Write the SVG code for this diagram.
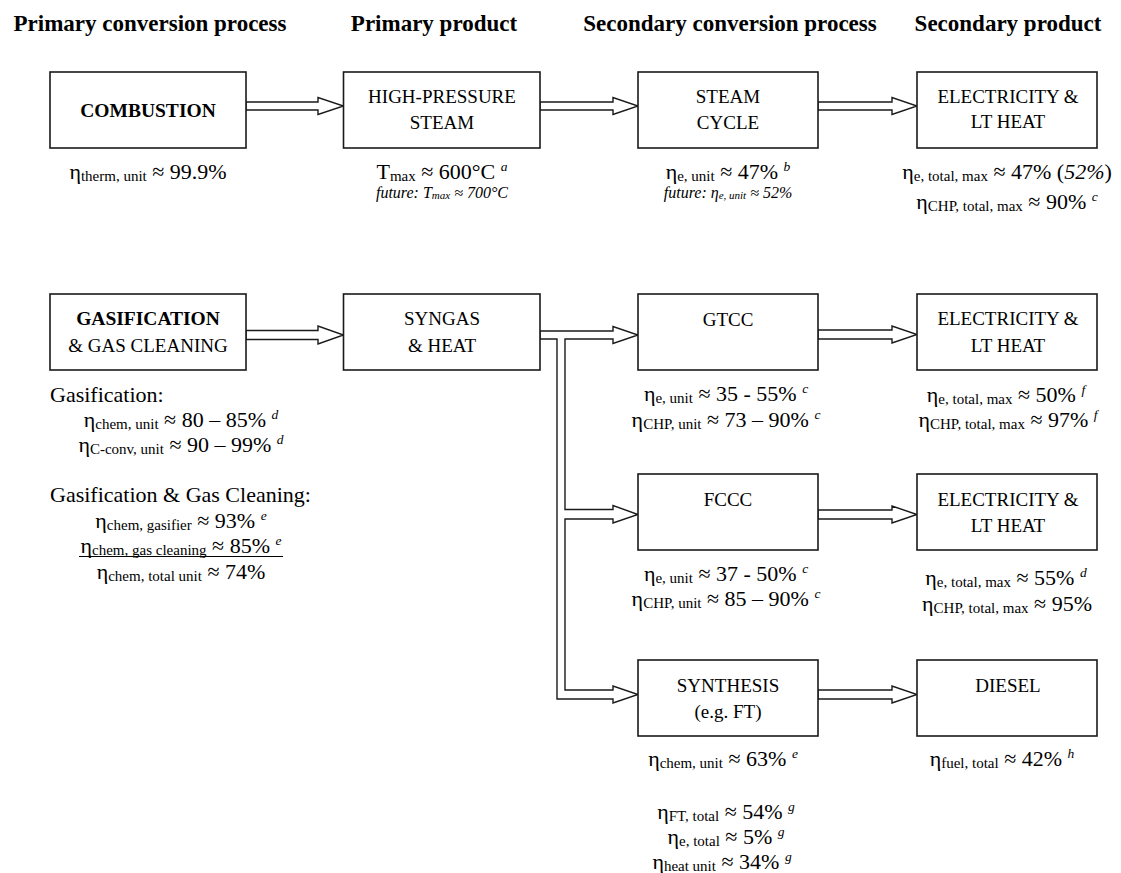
<svg xmlns="http://www.w3.org/2000/svg" width="1121" height="873" viewBox="0 0 1121 873">
<style>
text{font-family:"Liberation Serif","Times New Roman",serif;fill:#000}
.hdr{font-weight:bold;font-size:23px;text-anchor:middle}
.bl{font-size:19px;text-anchor:middle}
.bb{font-size:19.5px;font-weight:bold}
.ann{font-size:22px;text-anchor:middle}
.lft{font-size:22px}
.sub{font-size:15px}
.sup{font-size:13.5px;font-style:italic}
.it{font-style:italic}
.fut{font-size:16px;font-style:italic;text-anchor:middle}
.fsub{font-size:11px}
.box{fill:#fff;stroke:#1a1a1a;stroke-width:1.6}
.arr{fill:#fff;stroke:#1a1a1a;stroke-width:1.4;stroke-linejoin:miter}
</style>
<rect width="1121" height="873" fill="#fff"/>
<g id="headers">
<text class="hdr" x="150" y="31">Primary conversion process</text>
<text class="hdr" x="434" y="31">Primary product</text>
<text class="hdr" x="730" y="31">Secondary conversion process</text>
<text class="hdr" x="1008" y="31">Secondary product</text>
</g>
<g id="connectors">
<polygon class="arr" points="246,102 318,102 318,97.5 343.5,106 318,114.5 318,110 246,110"/>
<polygon class="arr" points="540,102 613,102 613,97.5 638,106 613,114.5 613,110 540,110"/>
<polygon class="arr" points="818,102 892,102 892,97.5 917,106 892,114.5 892,110 818,110"/>
<polygon class="arr" points="246,330.5 318,330.5 318,326 343.5,335 318,344 318,339.5 246,339.5"/>
<polygon class="arr" points="540,331 613,331 613,326.5 638,335 613,343.5 613,339 565,339 565,509.5 613,509.5 613,505.5 638,514.5 613,523 613,519 565,519 565,690 613,690 613,686 638,694.5 613,703 613,699 557,699 557,339 540,339"/>
<polygon class="arr" points="818,330 892,330 892,326 917,334.5 892,343 892,339 818,339"/>
<polygon class="arr" points="818,510 892,510 892,506 917,514.5 892,523 892,519 818,519"/>
<polygon class="arr" points="818,690 892,690 892,686 917,694.5 892,703 892,699 818,699"/>
</g>
<g id="combustion">
<rect class="box" x="50" y="72" width="196" height="76"/>
<text class="bl bb" x="148" y="117">COMBUSTION</text>
<text class="ann" x="148" y="179">η<tspan class="sub" dy="2">therm, unit</tspan><tspan dy="-2"> ≈ 99.9%</tspan></text>
</g>
<g id="hp-steam">
<rect class="box" x="343.5" y="72" width="196.5" height="76"/>
<text class="bl" x="442" y="103">HIGH-PRESSURE</text>
<text class="bl" x="442" y="128.5">STEAM</text>
<text class="ann" x="442" y="179">T<tspan class="sub" dy="2">max</tspan><tspan dy="-2"> ≈ 600°C </tspan><tspan class="sup" dy="-8">a</tspan></text>
<text class="fut" x="442" y="197.5">future: T<tspan class="fsub" dy="1">max</tspan><tspan dy="-1"> ≈ 700°C</tspan></text>
</g>
<g id="steam-cycle">
<rect class="box" x="638" y="72" width="180" height="76"/>
<text class="bl" x="728" y="103">STEAM</text>
<text class="bl" x="728" y="128.5">CYCLE</text>
<text class="ann" x="728" y="179">η<tspan class="sub" dy="2">e, unit</tspan><tspan dy="-2"> ≈ 47% </tspan><tspan class="sup" dy="-8">b</tspan></text>
<text class="fut" x="728" y="198">future: η<tspan class="fsub" dy="1">e, unit</tspan><tspan dy="-1"> ≈ 52%</tspan></text>
</g>
<g id="elec-1">
<rect class="box" x="917" y="72" width="180" height="76"/>
<text class="bl" x="1008" y="102.5">ELECTRICITY &amp;</text>
<text class="bl" x="1008" y="128">LT HEAT</text>
<text class="ann" x="1007" y="179">η<tspan class="sub" dy="2">e, total, max</tspan><tspan dy="-2"> ≈ 47% (</tspan><tspan class="it">52%</tspan>)</text>
<text class="ann" x="1007" y="208.5">η<tspan class="sub" dy="2">CHP, total, max</tspan><tspan dy="-2"> ≈ 90% </tspan><tspan class="sup" dy="-8">c</tspan></text>
</g>
<g id="gasification">
<rect class="box" x="50" y="294" width="196" height="76"/>
<text class="bl bb" x="148" y="325">GASIFICATION</text>
<text class="bl" x="148" y="351.5">&amp; GAS CLEANING</text>
<text class="lft" x="50" y="401.5">Gasification:</text>
<text class="ann" x="181" y="426.5">η<tspan class="sub" dy="2">chem, unit</tspan><tspan dy="-2"> ≈ 80 – 85% </tspan><tspan class="sup" dy="-8">d</tspan></text>
<text class="ann" x="181" y="452">η<tspan class="sub" dy="2">C-conv, unit</tspan><tspan dy="-2"> ≈ 90 – 99% </tspan><tspan class="sup" dy="-8">d</tspan></text>
<text class="lft" x="50" y="502">Gasification &amp; Gas Cleaning:</text>
<text class="ann" x="181" y="528">η<tspan class="sub" dy="2">chem, gasifier</tspan><tspan dy="-2"> ≈ 93% </tspan><tspan class="sup" dy="-8">e</tspan></text>
<text class="ann" x="181" y="553">η<tspan class="sub" dy="2">chem, gas cleaning</tspan><tspan dy="-2"> ≈ 85% </tspan><tspan class="sup" dy="-8">e</tspan></text>
<line x1="79" y1="556.5" x2="283" y2="556.5" stroke="#000" stroke-width="1.2"/>
<text class="ann" x="181" y="579">η<tspan class="sub" dy="2">chem, total unit</tspan><tspan dy="-2"> ≈ 74%</tspan></text>
</g>
<g id="syngas">
<rect class="box" x="343.5" y="294" width="196.5" height="76"/>
<text class="bl" x="442" y="325">SYNGAS</text>
<text class="bl" x="442" y="351.5">&amp; HEAT</text>
</g>
<g id="gtcc">
<rect class="box" x="638" y="294" width="180" height="76"/>
<text class="bl" x="728" y="325.5">GTCC</text>
<text class="ann" x="726" y="401">η<tspan class="sub" dy="2">e, unit</tspan><tspan dy="-2"> ≈ 35 - 55% </tspan><tspan class="sup" dy="-8">c</tspan></text>
<text class="ann" x="726" y="427">η<tspan class="sub" dy="2">CHP, unit</tspan><tspan dy="-2"> ≈ 73 – 90% </tspan><tspan class="sup" dy="-8">c</tspan></text>
</g>
<g id="elec-2">
<rect class="box" x="917" y="294" width="180" height="76"/>
<text class="bl" x="1008" y="325">ELECTRICITY &amp;</text>
<text class="bl" x="1008" y="351.5">LT HEAT</text>
<text class="ann" x="1006" y="401.5">η<tspan class="sub" dy="2">e, total, max</tspan><tspan dy="-2"> ≈ 50% </tspan><tspan class="sup" dy="-8">f</tspan></text>
<text class="ann" x="1008" y="427">η<tspan class="sub" dy="2">CHP, total, max</tspan><tspan dy="-2"> ≈ 97% </tspan><tspan class="sup" dy="-8">f</tspan></text>
</g>
<g id="fccc">
<rect class="box" x="638" y="474" width="180" height="76"/>
<text class="bl" x="728" y="505.5">FCCC</text>
<text class="ann" x="726" y="581">η<tspan class="sub" dy="2">e, unit</tspan><tspan dy="-2"> ≈ 37 - 50% </tspan><tspan class="sup" dy="-8">c</tspan></text>
<text class="ann" x="726" y="606">η<tspan class="sub" dy="2">CHP, unit</tspan><tspan dy="-2"> ≈ 85 – 90% </tspan><tspan class="sup" dy="-8">c</tspan></text>
</g>
<g id="elec-3">
<rect class="box" x="917" y="474" width="180" height="76"/>
<text class="bl" x="1008" y="505.5">ELECTRICITY &amp;</text>
<text class="bl" x="1008" y="532">LT HEAT</text>
<text class="ann" x="1006" y="585">η<tspan class="sub" dy="2">e, total, max</tspan><tspan dy="-2"> ≈ 55% </tspan><tspan class="sup" dy="-8">d</tspan></text>
<text class="ann" x="1007" y="610.5">η<tspan class="sub" dy="2">CHP, total, max</tspan><tspan dy="-2"> ≈ 95%</tspan></text>
</g>
<g id="synthesis">
<rect class="box" x="638" y="660" width="180" height="76"/>
<text class="bl" x="728" y="691.5">SYNTHESIS</text>
<text class="bl" x="728" y="717.5">(e.g. FT)</text>
<text class="ann" x="723" y="766">η<tspan class="sub" dy="2">chem, unit</tspan><tspan dy="-2"> ≈ 63% </tspan><tspan class="sup" dy="-8">e</tspan></text>
<text class="ann" x="726" y="819">η<tspan class="sub" dy="2">FT, total</tspan><tspan dy="-2"> ≈ 54% </tspan><tspan class="sup" dy="-8">g</tspan></text>
<text class="ann" x="726" y="844">η<tspan class="sub" dy="2">e, total</tspan><tspan dy="-2"> ≈ 5% </tspan><tspan class="sup" dy="-8">g</tspan></text>
<text class="ann" x="722" y="869">η<tspan class="sub" dy="2">heat unit</tspan><tspan dy="-2"> ≈ 34% </tspan><tspan class="sup" dy="-8">g</tspan></text>
</g>
<g id="diesel">
<rect class="box" x="917" y="660" width="180" height="76"/>
<text class="bl" x="1008" y="691.5">DIESEL</text>
<text class="ann" x="1002" y="766">η<tspan class="sub" dy="2">fuel, total</tspan><tspan dy="-2"> ≈ 42% </tspan><tspan class="sup" dy="-8">h</tspan></text>
</g>
</svg>
